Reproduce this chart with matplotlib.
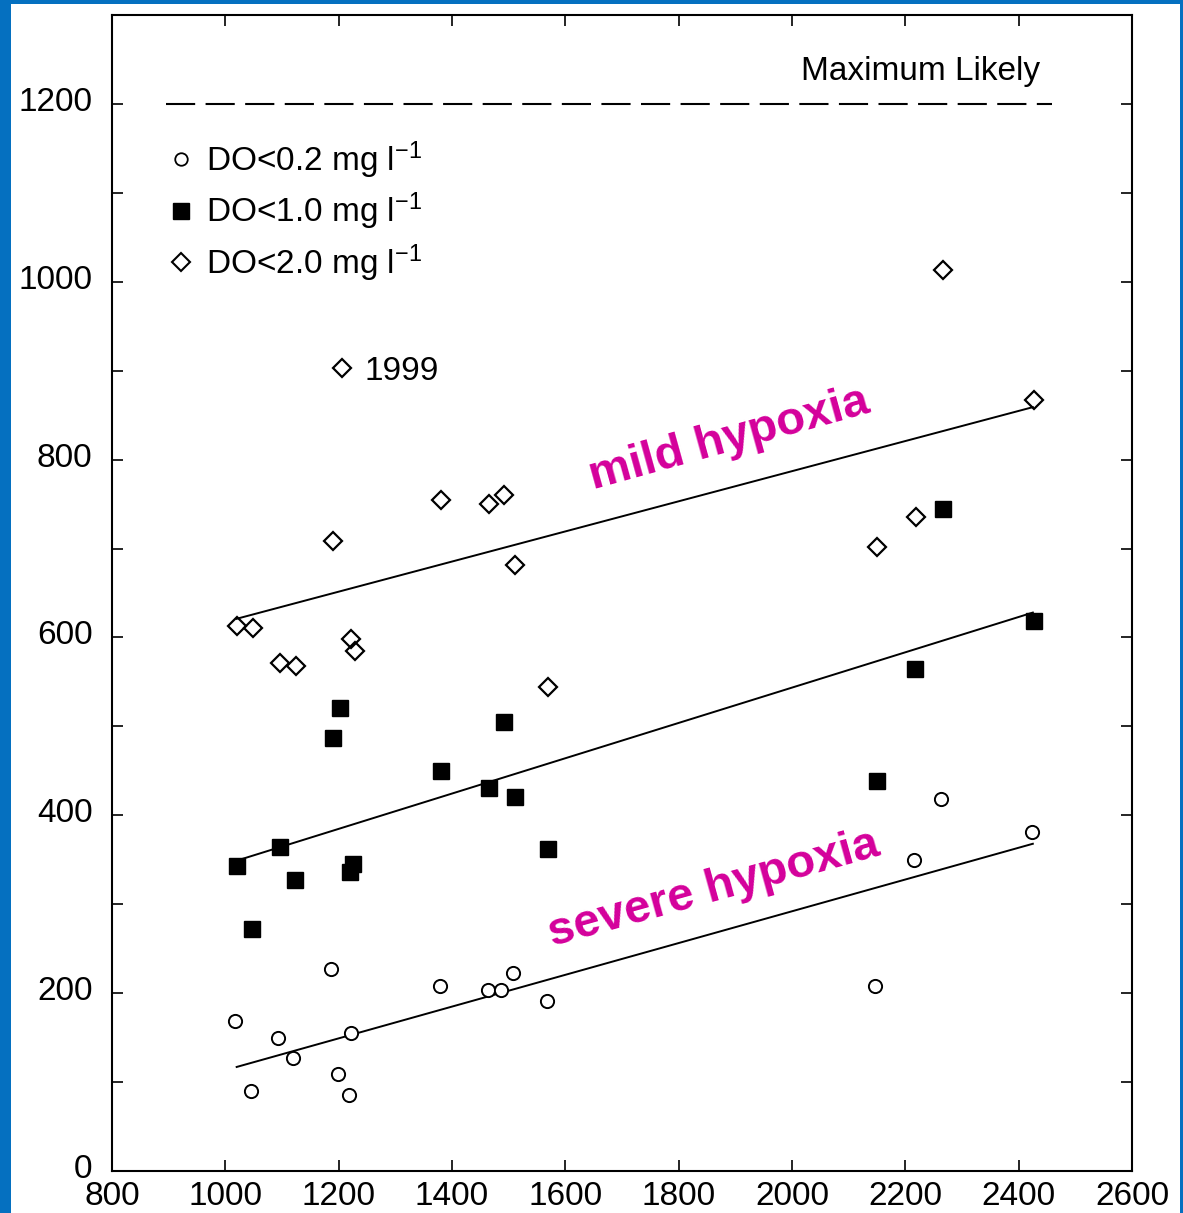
import numpy as np
import matplotlib.pyplot as plt
import matplotlib.transforms as mtransforms
from matplotlib.lines import Line2D
from matplotlib.patches import Rectangle

plt.rcParams['font.family'] = ['Liberation Sans', 'DejaVu Sans']
plt.rcParams['mathtext.default'] = 'regular'

# DO < 0.2 mg/l  (open circles)
x_02 = [1017, 1046, 1093, 1120, 1187, 1199, 1219, 1222, 1378, 1464, 1487, 1508, 1567, 2146, 2215, 2263, 2424]
y_02 = [169, 90, 150, 127, 227, 109, 85, 155, 208, 204, 204, 223, 191, 208, 350, 418, 381]

# DO < 1.0 mg/l  (filled squares)
x_10 = [1021, 1047, 1097, 1123, 1190, 1203, 1220, 1226, 1381, 1466, 1491, 1512, 1570, 2150, 2217, 2266, 2427]
y_10 = [343, 272, 364, 327, 487, 521, 336, 345, 450, 431, 505, 421, 362, 439, 564, 744, 618]

# DO < 2.0 mg/l  (open diamonds)
x_20 = [1021, 1049, 1097, 1125, 1190, 1205, 1222, 1228, 1381, 1466, 1491, 1512, 1570, 2150, 2219, 2266, 2427]
y_20 = [613, 611, 571, 568, 708, 903, 598, 585, 755, 750, 760, 682, 544, 702, 735, 1013, 867]

# fitted lines (end values)
fit_x = [1020, 2425]
fit_02 = [117, 368]
fit_10 = [349, 628]
fit_20 = [621, 859]

max_likely = 1200
max_x = [895, 2459]

fig = plt.figure(figsize=(11.83, 12.13), dpi=100)
fig.patch.set_facecolor('#0570c0')
fig.add_artist(Rectangle((11/1183, 0), (1180-11)/1183, 1 - 4/1213,
                         transform=fig.transFigure, facecolor='white', edgecolor='none', zorder=0))

ax = fig.add_axes([112/1183, 1 - 1171/1213, (1132-112)/1183, (1171-15)/1213])
ax.set_facecolor('white')

ax.plot(fit_x, fit_20, color='black', lw=1.4)
ax.plot(fit_x, fit_10, color='black', lw=1.4)
ax.plot(fit_x, fit_02, color='black', lw=1.4)

ax.plot(x_02, y_02, ls='none', marker='o', ms=9.5, mfc='white', mec='black', mew=1.4)
ax.plot(x_10, y_10, ls='none', marker='s', ms=11.5, mfc='black', mec='black', mew=1)
ax.plot(x_20, y_20, ls='none', marker='D', ms=9.5, mfc='none', mec='black', mew=1.6)

ax.plot(max_x, [max_likely, max_likely], color='black', lw=1.5, dashes=(14, 5))
ax.text(2438, 1236, 'Maximum Likely', ha='right', va='center', fontsize=24)
ax.text(1245, 899, '1999', ha='left', va='center', fontsize=24)

ax.text(1890, 823, 'mild hypoxia', color='#d4009b', fontsize=34, fontweight='bold',
        rotation=15.5, ha='center', va='center', rotation_mode='anchor')
ax.text(1862, 317, 'severe hypoxia', color='#d4009b', fontsize=34, fontweight='bold',
        rotation=15.5, ha='center', va='center', rotation_mode='anchor')

handles = [
    Line2D([], [], ls='none', marker='o', ms=9, mfc='white', mec='black', mew=1.3),
    Line2D([], [], ls='none', marker='s', ms=11, mfc='black', mec='black'),
    Line2D([], [], ls='none', marker='D', ms=9.5, mfc='none', mec='black', mew=1.5),
]
labels = ['DO<0.2 mg l$^{-1}$', 'DO<1.0 mg l$^{-1}$', 'DO<2.0 mg l$^{-1}$']
ax.legend(handles, labels, loc='upper left', bbox_to_anchor=(0.038, 0.907), frameon=False,
          fontsize=24, handlelength=0.8, handletextpad=0.37, labelspacing=0.3, borderpad=0)

ax.set_xlim(800, 2600)
ax.set_ylim(0, 1300)
ax.set_xticks(np.arange(800, 2601, 200))
ax.set_yticks(np.arange(0, 1201, 200))
ax.set_yticks(np.arange(100, 1300, 200), minor=True)
ax.tick_params(direction='in', top=True, right=True, labelsize=24, length=8, width=1.2, pad=7)
ax.tick_params(which='minor', direction='in', right=True, length=8, width=1.2)
ax.tick_params(axis='y', pad=14)
for s in ax.spines.values():
    s.set_linewidth(1.5)

# y labels sit a little above their ticks in the original
shift = mtransforms.ScaledTranslation(0, 5/100, fig.dpi_scale_trans)
for lab in ax.get_yticklabels():
    lab.set_transform(lab.get_transform() + shift)

fig.savefig('out.png', dpi=100, facecolor=fig.get_facecolor())
